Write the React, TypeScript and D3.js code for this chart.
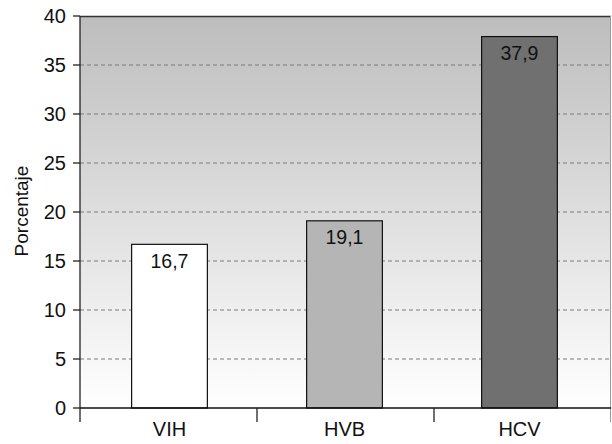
import React from "react";
import * as d3 from "d3";

const categories = ["VIH", "HVB", "HCV"];
const values = [16.7, 19.1, 37.9];
const valueLabels = ["16,7", "19,1", "37,9"];
const barColors = ["#ffffff", "#b5b5b5", "#707070"];
const yTicks = [0, 5, 10, 15, 20, 25, 30, 35, 40];
const yTitle = "Porcentaje";

export default function App() {
  const W = 612, H = 444;
  const left = 80, right = 611, top = 16, bottom = 408;
  const x = d3.scaleBand<string>().domain(categories).range([left, right]).padding(0);
  const xBar = d3.scaleBand<string>().domain(categories).range([left + 2, right - 4]).padding(0);
  const y = d3.scaleLinear().domain([0, 40]).range([bottom, top]);
  const bw = x.bandwidth() * 0.428;
  const font = "'Liberation Sans', Arial, Helvetica, sans-serif";
  const boundaries = [left, ...categories.map((c) => (x(c) as number) + x.bandwidth())];
  return (
    <svg width={W} height={H} style={{ position: "absolute", left: 0, top: 0 }} fontFamily={font}>
      <defs>
        <linearGradient id="bg" x1="0" y1="0" x2="0" y2="1">
          <stop offset="0%" stopColor="#bdbdbd" />
          <stop offset="100%" stopColor="#ffffff" />
        </linearGradient>
      </defs>
      <rect x={0} y={0} width={W} height={H} fill="#fff" />
      <rect x={left} y={top} width={right - left} height={bottom - top} fill="url(#bg)" />
      {yTicks.filter((t) => t > 0 && t < 40).map((t) => (
        <line key={t} x1={left} x2={right} y1={y(t)} y2={y(t)} stroke="#7a7a7a" strokeWidth={1} strokeDasharray="4,3" />
      ))}
      <line x1={left} x2={right} y1={top + 0.5} y2={top + 0.5} stroke="#333" strokeWidth={1.3} />
      <line x1={right - 0.5} x2={right - 0.5} y1={top} y2={bottom + 14} stroke="#999" strokeWidth={1} />
      {categories.map((c, i) => {
        const cx = (xBar(c) as number) + xBar.bandwidth() / 2;
        const lx = (x(c) as number) + x.bandwidth() / 2;
        return (
          <g key={c}>
            <rect x={cx - bw / 2} y={y(values[i])} width={bw} height={bottom - y(values[i])} fill={barColors[i]} stroke="#111" strokeWidth={1.2} />
            <text x={cx} y={y(values[i]) + 23.5} textAnchor="middle" fontSize={19.5} fill="#111">{valueLabels[i]}</text>
            <text x={cx} y={436} textAnchor="middle" fontSize={20} fill="#111">{c}</text>
          </g>
        );
      })}
      <line x1={left} x2={left} y1={top} y2={bottom + 14} stroke="#222" strokeWidth={1.3} />
      <line x1={left} x2={right} y1={bottom} y2={bottom} stroke="#111" strokeWidth={1.6} />
      {boundaries.slice(1, -1).map((b, i) => (
        <line key={i} x1={b} x2={b} y1={bottom} y2={bottom + 14} stroke="#222" strokeWidth={1.3} />
      ))}
      {yTicks.map((t) => (
        <g key={t}>
          <line x1={left - 7} x2={left} y1={y(t)} y2={y(t)} stroke="#222" strokeWidth={1.3} />
          <text x={66} y={y(t)} dy="0.33em" textAnchor="end" fontSize={20} fill="#111">{t}</text>
        </g>
      ))}
      <text transform="translate(27.5,211) rotate(-90)" textAnchor="middle" fontSize={19} fill="#111">{yTitle}</text>
    </svg>
  );
}
